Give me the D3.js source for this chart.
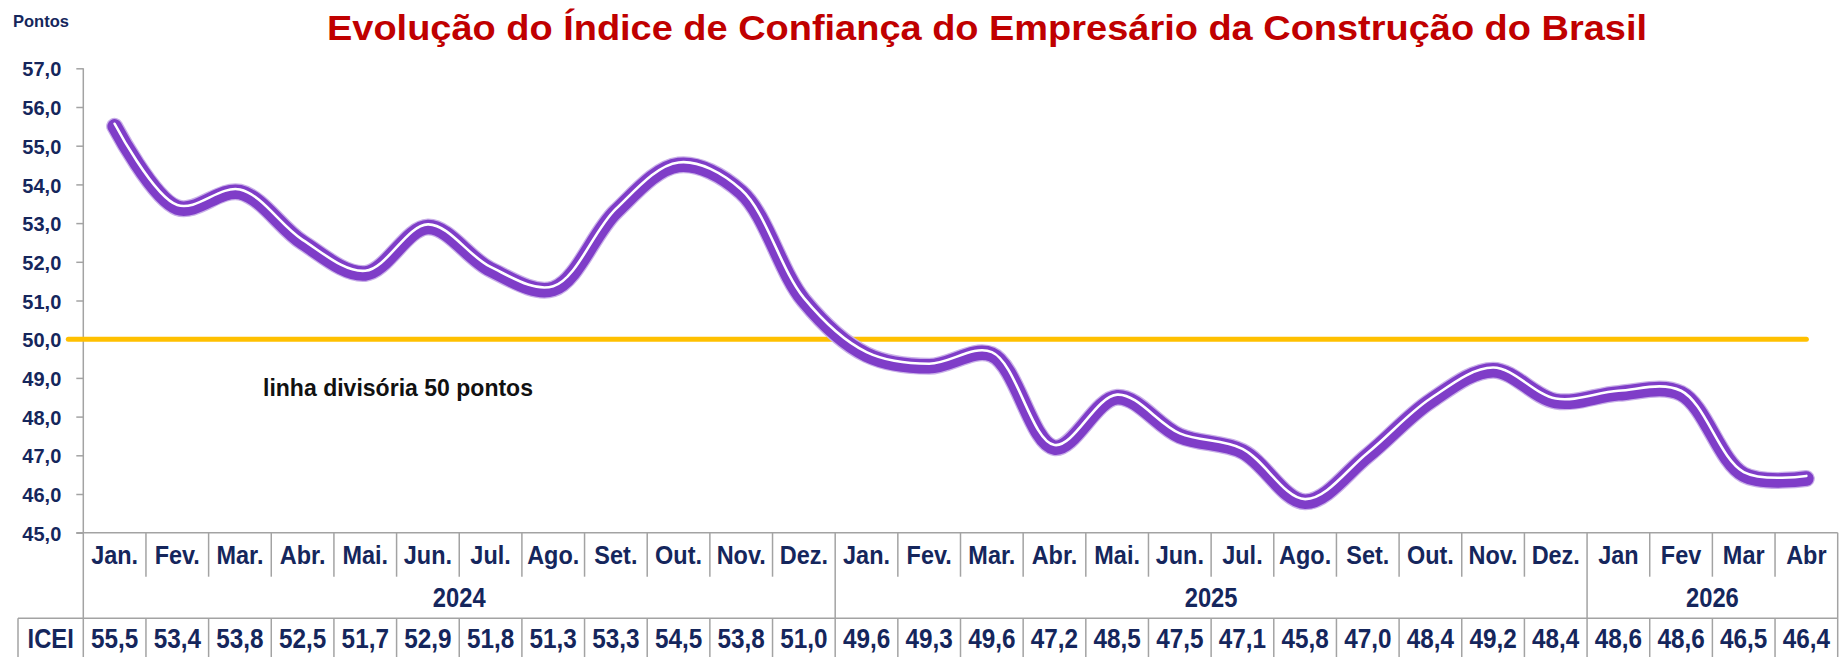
<!DOCTYPE html>
<html>
<head>
<meta charset="utf-8">
<script src="https://cdn.jsdelivr.net/npm/d3@7"></script>
<style>
  html, body { margin: 0; padding: 0; background: #ffffff; }
  svg { display: block; }
  text { font-family: "Liberation Sans", Arial, sans-serif; font-weight: bold; }
</style>
</head>
<body>
<div id="chart"></div>
<script>
// ---------------- DATA ----------------
const titleText = "Evolução do Índice de Confiança do Empresário da Construção do Brasil";
const yAxisTitle = "Pontos";
const months = ["Jan.","Fev.","Mar.","Abr.","Mai.","Jun.","Jul.","Ago.","Set.","Out.","Nov.","Dez.",
                "Jan.","Fev.","Mar.","Abr.","Mai.","Jun.","Jul.","Ago.","Set.","Out.","Nov.","Dez.",
                "Jan","Fev","Mar","Abr"];
const years = ["2024","2025","2026"];
const yearSpans = [12, 12, 4];
const seriesName = "ICEI";
const icei = [55.5,53.4,53.8,52.5,51.7,52.9,51.8,51.3,53.3,54.5,53.8,51.0,
              49.6,49.3,49.6,47.2,48.5,47.5,47.1,45.8,47.0,48.4,49.2,48.4,
              48.6,48.6,46.5,46.4];
const yTicks = [45,46,47,48,49,50,51,52,53,54,55,56,57];
const threshold = 50;
const thresholdLabel = "linha divisória 50 pontos";

// ---------------- LAYOUT ----------------
const W = 1845, H = 657;
const plotLeft = 83.3, plotRight = 1837.7;
const yTop = 68.3, yBottom = 532.7;
const monthRowBottom = 576.7, yearRowBottom = 618.3;
const iceiLeft = 18;
const navy = "#15265c";
const gridCol = "#a3a3a3";
const purple = "#7f3dc8";
const orange = "#ffc000";

const fmt = v => d3.format(".1f")(v).replace(".", ",");

const svg = d3.select("#chart").append("svg")
  .attr("width", W).attr("height", H);

const x = d3.scaleBand().domain(d3.range(months.length)).range([plotLeft, plotRight]).padding(0);
const y = d3.scaleLinear().domain([45, 57]).range([yBottom, yTop]);

function txt(g, px, py, str, size, sx, anchor, fill) {
  return g.append("text")
    .attr("transform", `translate(${px},${py}) scale(${sx},1)`)
    .attr("text-anchor", anchor)
    .attr("font-size", size)
    .attr("fill", fill || navy)
    .text(str);
}

// ---------------- TITLE ----------------
svg.append("text")
  .attr("x", 987).attr("y", 40)
  .attr("text-anchor", "middle")
  .attr("font-size", 35)
  .attr("fill", "#c00000")
  .attr("textLength", 1320)
  .attr("lengthAdjust", "spacingAndGlyphs")
  .text(titleText);

txt(svg, 13, 27, yAxisTitle, 16.5, 1, "start");

// ---------------- Y AXIS ----------------
const yAxis = d3.axisLeft(y).tickValues(yTicks).tickSize(7).tickPadding(15).tickFormat(fmt);
const gy = svg.append("g").attr("transform", `translate(${plotLeft},0)`).call(yAxis);
gy.select(".domain").remove();
gy.selectAll(".tick line").attr("stroke", gridCol).attr("stroke-width", 1.5);
gy.selectAll(".tick text")
  .attr("fill", navy).attr("font-size", 20)
  .attr("font-family", "'Liberation Sans', Arial, sans-serif")
  .attr("font-weight", "bold")
  .attr("dy", "0.38em");
// axis vertical line continues through table
svg.append("line")
  .attr("x1", plotLeft).attr("x2", plotLeft)
  .attr("y1", y(57)).attr("y2", H)
  .attr("stroke", gridCol).attr("stroke-width", 1.5);

// ---------------- DATA TABLE ----------------
const tbl = svg.append("g");
tbl.append("line").attr("x1", plotLeft - 7).attr("x2", plotRight)
  .attr("y1", yBottom).attr("y2", yBottom).attr("stroke", gridCol).attr("stroke-width", 1.5);
tbl.append("line").attr("x1", iceiLeft).attr("x2", plotRight)
  .attr("y1", yearRowBottom).attr("y2", yearRowBottom).attr("stroke", gridCol).attr("stroke-width", 1.5);
tbl.append("line").attr("x1", iceiLeft).attr("x2", iceiLeft)
  .attr("y1", yearRowBottom).attr("y2", H).attr("stroke", gridCol).attr("stroke-width", 1.5);

const groupEnds = [];
let acc = 0;
yearSpans.forEach(s => { groupEnds.push(acc + s); acc += s; });

months.forEach((m, i) => {
  const xr = x(i) + x.bandwidth();
  const isGroupEnd = groupEnds.includes(i + 1);
  tbl.append("line").attr("x1", xr).attr("x2", xr)
    .attr("y1", yBottom).attr("y2", isGroupEnd ? H : monthRowBottom)
    .attr("stroke", gridCol).attr("stroke-width", 1.5);
  if (!isGroupEnd) {
    tbl.append("line").attr("x1", xr).attr("x2", xr)
      .attr("y1", yearRowBottom).attr("y2", H)
      .attr("stroke", gridCol).attr("stroke-width", 1.5);
  }
  const cx = x(i) + x.bandwidth() / 2;
  txt(tbl, cx, 564, m, 25.5, 0.92, "middle");
  txt(tbl, cx, 648, fmt(icei[i]), 27, 0.9, "middle");
});

acc = 0;
years.forEach((yr, k) => {
  const x0 = x(acc), x1 = x(acc + yearSpans[k] - 1) + x.bandwidth();
  txt(tbl, (x0 + x1) / 2, 607, yr, 27, 0.88, "middle");
  acc += yearSpans[k];
});

txt(tbl, (iceiLeft + plotLeft) / 2, 648, seriesName, 27, 0.88, "middle");

// ---------------- THRESHOLD LINE ----------------
svg.append("line")
  .attr("x1", plotLeft - 15)
  .attr("x2", x(months.length - 1) + x.bandwidth() / 2)
  .attr("y1", y(threshold)).attr("y2", y(threshold))
  .attr("stroke", orange).attr("stroke-width", 5).attr("stroke-linecap", "round");

svg.append("text")
  .attr("x", 263).attr("y", 396)
  .attr("font-size", 24.5)
  .attr("fill", "#111111")
  .attr("textLength", 270)
  .attr("lengthAdjust", "spacingAndGlyphs")
  .text(thresholdLabel);

// ---------------- ICEI LINE ----------------
const line = d3.line()
  .x((d, i) => x(i) + x.bandwidth() / 2)
  .y(d => y(d))
  .curve(d3.curveCatmullRom.alpha(0.5));

svg.append("path").datum(icei)
  .attr("d", line)
  .attr("fill", "none")
  .attr("stroke", "#c9b0e8")
  .attr("stroke-width", 17)
  .attr("stroke-linecap", "round")
  .attr("stroke-linejoin", "round");
svg.append("path").datum(icei)
  .attr("d", line)
  .attr("fill", "none")
  .attr("stroke", purple)
  .attr("stroke-width", 14.5)
  .attr("stroke-linecap", "round")
  .attr("stroke-linejoin", "round");
svg.append("path").datum(icei)
  .attr("d", line)
  .attr("transform", "translate(0,-2.6)")
  .attr("fill", "none")
  .attr("stroke", "#ffffff")
  .attr("stroke-width", 2.6)
  .attr("stroke-linecap", "round")
  .attr("stroke-linejoin", "round");
</script>
</body>
</html>
